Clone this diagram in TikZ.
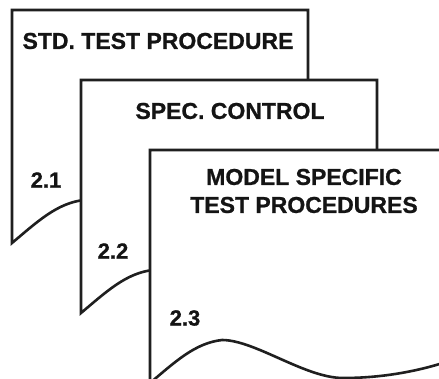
\documentclass[tikz,border=0pt]{standalone}
\usepackage{fontspec}
\setmainfont{Liberation Sans}[BoldFeatures={FakeBold=0.9}]
\tikzset{
  docshape/.style={draw=black!88, line width=2.6pt, fill=white, line join=miter},
  titletext/.style={font=\fontsize{23}{28}\selectfont\bfseries, text=black!92, align=center, inner sep=0pt},
  numtext/.style={font=\fontsize{22}{26}\selectfont\bfseries, text=black!92, inner sep=0pt}
}
\newcommand{\docpath}{(0,233) -- (0,0) -- (296,0) -- (296,212)
  .. controls (265,222) and (230,228) .. (193,228)
  .. controls (155,228) and (105,190) .. (72,190)
  .. controls (45,193) and (25,212) .. cycle}
\begin{document}
\begin{tikzpicture}[x=1pt,y=-1pt]
\useasboundingbox (0,0) rectangle (439,379);
\clip (0,0) rectangle (439,379);
\fill[white] (0,0) rectangle (439,379);
\begin{scope}[shift={(12,10)}]
  \draw[docshape] \docpath;
  \node[titletext] (t1) at (146,31) {STD. TEST PROCEDURE};
  \node[numtext] (n1) at (34,170) {2.1};
\end{scope}
\begin{scope}[shift={(81,80)}]
  \draw[docshape] \docpath;
  \node[titletext] (t2) at (149,31) {SPEC. CONTROL};
  \node[numtext] (n2) at (32,171) {2.2};
\end{scope}
\begin{scope}[shift={(150,150)}]
  \draw[docshape] \docpath;
  \node[titletext] (t3) at (154,41) {MODEL SPECIFIC\\TEST PROCEDURES};
  \node[numtext] (n3) at (35,168) {2.3};
\end{scope}
\end{tikzpicture}
\end{document}
